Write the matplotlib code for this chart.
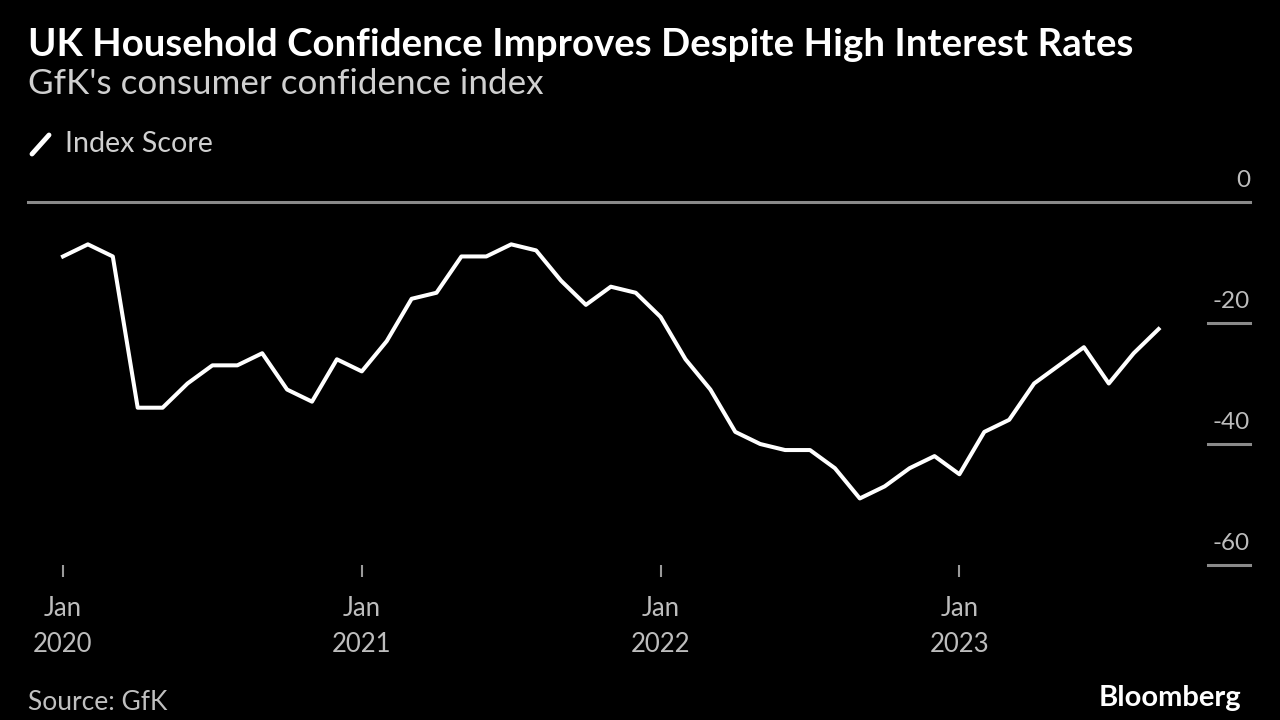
import matplotlib
matplotlib.use("Agg")
import matplotlib.pyplot as plt
import matplotlib.transforms as mtransforms

plt.rcParams['font.family'] = ['Lato', 'DejaVu Sans']

# Monthly GfK consumer confidence index, Jan 2020 - Sep 2023
months = [f"{y}-{m:02d}" for y in range(2020, 2024) for m in range(1, 13)][:45]
index_score = [
    -9, -7, -9, -34, -34, -30, -27, -27, -25, -31, -33, -26,      # 2020
    -28, -23, -16, -15, -9, -9, -7, -8, -13, -17, -14, -15,       # 2021
    -19, -26, -31, -38, -40, -41, -41, -44, -49, -47, -44, -42,   # 2022
    -45, -38, -36, -30, -27, -24, -30, -25, -21,                  # 2023
]
xtick_pos = [0, 12, 24, 36]
xtick_labels = ["Jan\n2020", "Jan\n2021", "Jan\n2022", "Jan\n2023"]
ytick_vals = [0, -20, -40, -60]

BG = "#000000"
fig = plt.figure(figsize=(12.8, 7.2), dpi=100, facecolor=BG)
ax = fig.add_axes([28/1280, 1-565/720, (1250-28)/1280, (565-202)/720])
ax.set_facecolor(BG)

x = list(range(len(index_score)))
ax.plot(x, index_score, color="white", lw=2.9, solid_joinstyle="round", zorder=3)

ax.set_xlim(-35/24.9, (1250-63)/24.9)
ax.set_ylim(-60, 0)

for s in ax.spines.values():
    s.set_visible(False)

# zero line full width, others short on the right
trans = mtransforms.blended_transform_factory(ax.transAxes, ax.transData)
for v in ytick_vals:
    if v == 0:
        ax.plot([0, 1], [v, v], color="#8a8a8a", lw=2.2, transform=trans, clip_on=False, zorder=2)
    else:
        ax.plot([(1208-28)/1222, 1], [v, v], color="#8a8a8a", lw=2.2, transform=trans, clip_on=False, zorder=2)
    off = mtransforms.offset_copy(trans, fig=fig, x=0, y=11, units='dots')
    ax.text(1.0, v, f"{v}", transform=off, ha="right", va="bottom", color="#bdbdbd",
            fontsize=17.5)

ax.set_yticks([])
ax.set_xticks(xtick_pos)
ax.set_xticklabels(xtick_labels, color="#bdbdbd", fontsize=18.5, linespacing=1.55)
ax.tick_params(axis="x", length=8.5, width=1.5, color="#9a9a9a", direction="out", pad=14)

fig.text(28/1280, 1-45/720, "UK Household Confidence Improves Despite High Interest Rates",
         color="white", fontsize=27.6, fontweight="bold", va="center", ha="left")
fig.text(28/1280, 1-84/720, "GfK's consumer confidence index",
         color="#d0d0d0", fontsize=25.2, va="center", ha="left")

# legend
fig.lines.append(plt.Line2D([32/1280, 49/1280], [1-154/720, 1-135/720], color="white", lw=3.5,
                            solid_capstyle="round", transform=fig.transFigure))
fig.text(65/1280, 1-144/720, "Index Score", color="#d0d0d0", fontsize=20.6, va="center", ha="left")

fig.text(28/1280, 1-702/720, "Source: GfK", color="#c0c0c0", fontsize=19, va="center", ha="left")
fig.text(1241/1280, 1-698/720, "Bloomberg", color="white", fontsize=21, fontweight="bold",
         va="center", ha="right")

fig.savefig("out.png", dpi=100, facecolor=BG)
